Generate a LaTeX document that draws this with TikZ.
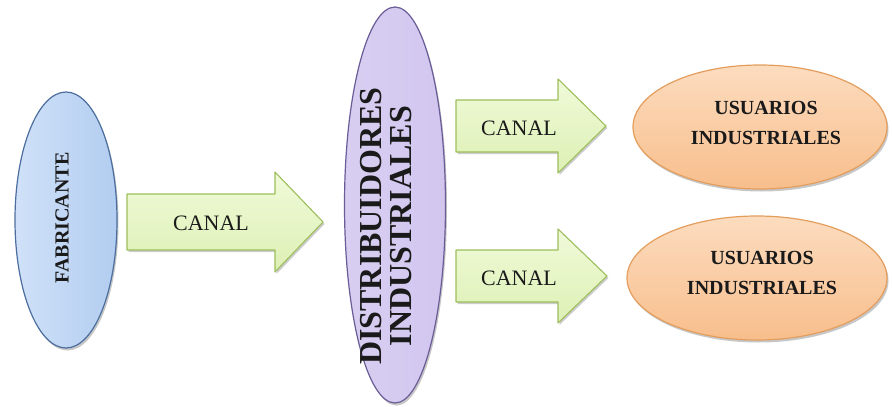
\documentclass[tikz,border=0pt]{standalone}
\usepackage{fontspec}
\setmainfont{Liberation Serif}
\usetikzlibrary{shapes.geometric,shadows}

\definecolor{fabline}{HTML}{4C6E9E}
\definecolor{fabL}{HTML}{D0E1F8}
\definecolor{fabR}{HTML}{B2CDF0}
\definecolor{distline}{HTML}{6A5C96}
\definecolor{distL}{HTML}{D8CEF1}
\definecolor{distM}{HTML}{E9E2F8}
\definecolor{distR}{HTML}{D2C6EF}
\definecolor{canline}{HTML}{9DBE5C}
\definecolor{canT}{HTML}{F0FAD9}
\definecolor{canB}{HTML}{DDF0B4}
\definecolor{usline}{HTML}{E39E5E}
\definecolor{usT}{HTML}{FCDCBF}
\definecolor{usB}{HTML}{F8BE8C}
\definecolor{ink}{HTML}{1A1A1A}

% block arrow: x of tail, x where the head starts, x of tip, y of axis,
% half width of the shaft, half width of the head
\newcommand\blockarrow[6]{%
  \draw[canalarrow] (#1,#4-#5) -- (#2,#4-#5) -- (#2,#4-#6) -- (#3,#4)
    -- (#2,#4+#6) -- (#2,#4+#5) -- (#1,#4+#5) -- cycle;}

\begin{document}
\begin{tikzpicture}[x=1pt,y=-1pt,
  oval/.style={ellipse, draw, line width=1.2pt, inner sep=0pt,
    drop shadow={shadow xshift=1.5pt, shadow yshift=-2.5pt, opacity=0.22, fill=black}},
  canalarrow/.style={draw=canline, line width=1.1pt, line join=round,
    top color=canT, bottom color=canB,
    drop shadow={shadow xshift=1.5pt, shadow yshift=-2pt, opacity=0.2, fill=black}},
  canaltxt/.style={text=ink, font=\fontsize{22}{26}\selectfont},
  boldtxt/.style={text=ink, align=center, font=\fontsize{20}{30}\selectfont\bfseries},
]
\useasboundingbox (0,0) rectangle (892,407);

% producer
\node[oval, draw=fabline, left color=fabL, right color=fabR,
      minimum width=102pt, minimum height=256pt] (fab) at (66,220) {};
\node[boldtxt, rotate=90] (fabtxt) at (62,218) {FABRICANTE};

% distributors
\node[oval, draw=distline, left color=distL, middle color=distM, right color=distR,
      minimum width=101pt, minimum height=396pt] (dist) at (395,205) {};
\node[text=ink, align=center, rotate=90,
      font=\fontsize{32}{30}\selectfont\bfseries] (disttxt) at (386,226)
      {DISTRIBUIDORES\\INDUSTRIALES};

% industrial users
\node[oval, draw=usline, top color=usT, bottom color=usB,
      minimum width=254pt, minimum height=124pt] (us1) at (760,127) {};
\node[boldtxt] (us1txt) at (766,123) {USUARIOS\\INDUSTRIALES};
\node[oval, draw=usline, top color=usT, bottom color=usB,
      minimum width=260pt, minimum height=124pt] (us2) at (757,278) {};
\node[boldtxt] (us2txt) at (762,273) {USUARIOS\\INDUSTRIALES};

% channels
\blockarrow{127}{275}{323}{222}{28}{50}
\node[canaltxt] (c1) at (211,223) {CANAL};
\blockarrow{456}{558}{606}{126}{26}{47}
\node[canaltxt] (c2) at (519,128) {CANAL};
\blockarrow{456}{558}{607}{276}{26}{47}
\node[canaltxt] (c3) at (519,278) {CANAL};
\end{tikzpicture}
\end{document}
